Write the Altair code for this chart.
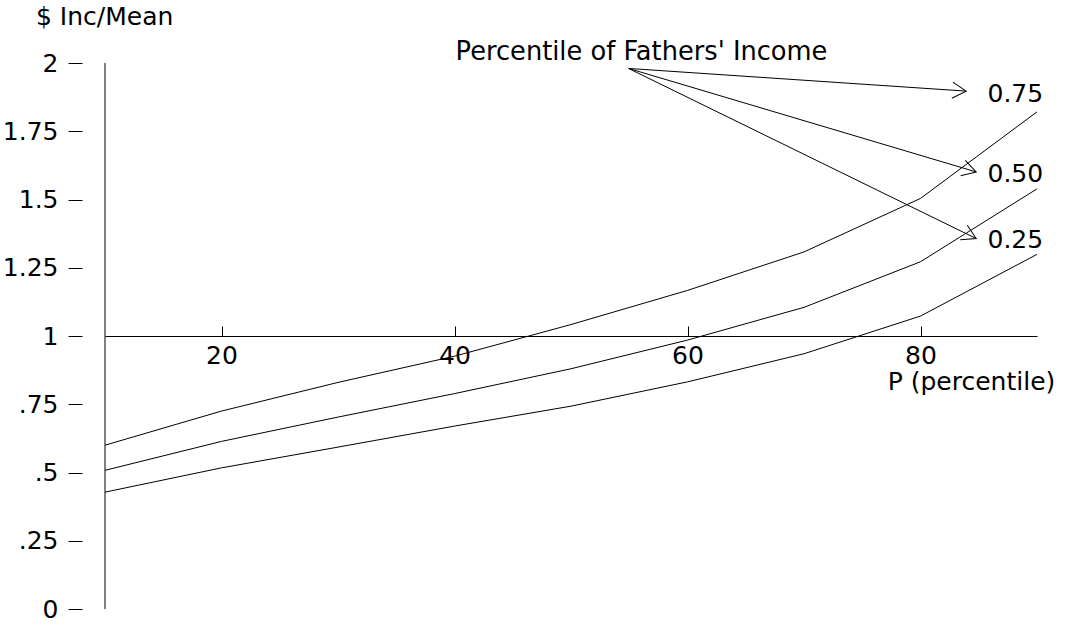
import math
import altair as alt
import pandas as pd

# ---- data ----
percentile = [10, 20, 30, 40, 50, 60, 70, 80, 90]
inc_p75 = [0.600, 0.725, 0.830, 0.926, 1.042, 1.167, 1.308, 1.504, 1.821]
inc_p50 = [0.508, 0.614, 0.703, 0.789, 0.880, 0.985, 1.105, 1.272, 1.539]
inc_p25 = [0.428, 0.517, 0.593, 0.670, 0.743, 0.832, 0.935, 1.073, 1.299]
series_names = ["0.75", "0.50", "0.25"]

x_tick_values = [20, 40, 60, 80]
y_tick_values = [0, 0.25, 0.5, 0.75, 1, 1.25, 1.5, 1.75, 2]
y_tick_labels = ["0", ".25", ".5", ".75", "1", "1.25", "1.5", "1.75", "2"]

x_title = "P (percentile)"
y_title = "$ Inc/Mean"
note_text = "Percentile of Fathers' Income"

# annotation anchors (data coordinates)
note_x, note_y = 56.05, 2.040
arrow_from_x, arrow_from_y = 54.94, 1.980
arrow_to_x = [83.92, 84.78, 84.78]
arrow_to_y = [1.897, 1.601, 1.357]
label_x = 85.75
label_y = [1.886, 1.594, 1.353]

# ---- layout ----
W, H = 932, 546
X_DOM = [10, 90]
Y_DOM = [0, 2]
PX_X = W / (X_DOM[1] - X_DOM[0])
PX_Y = H / (Y_DOM[1] - Y_DOM[0])
FONT = "DejaVu Sans"
FS = 25

rows = []
for name, vals in zip(series_names, [inc_p75, inc_p50, inc_p25]):
    for p, v in zip(percentile, vals):
        rows.append({"P": p, "v": v, "series": name})
df_lines = pd.DataFrame(rows)

x_scale = alt.Scale(domain=X_DOM, nice=False, zero=False)
y_scale = alt.Scale(domain=Y_DOM, nice=False, zero=False)

label_expr = ""
for v, l in zip(y_tick_values, y_tick_labels):
    label_expr += f"datum.value == {v} ? '{l}' : "
label_expr += "datum.label"

x_offset_px = -(1 - Y_DOM[0]) * PX_Y  # put x axis at y = 1

lines = alt.Chart(df_lines).mark_line(color="black", strokeWidth=1).encode(
    x=alt.X("P:Q", scale=x_scale, axis=alt.Axis(
        orient="bottom", offset=x_offset_px, values=x_tick_values,
        ticks=False, tickSize=0, domain=True, domainColor="black", domainWidth=1,
        grid=False, labelPadding=7, labelFont=FONT, labelFontSize=FS,
        labelColor="black", labelFlush=False,
        title=x_title, titleFont=FONT, titleFontSize=FS, titleFontWeight="normal",
        titleColor="black", titleX=866, titleY=45, titleAlign="center",
        titleBaseline="middle")),
    y=alt.Y("v:Q", scale=y_scale, axis=alt.Axis(
        orient="left", offset=23, values=y_tick_values, domain=False,
        ticks=True, tickSize=14, tickColor="black", tickWidth=1, grid=False,
        labelPadding=10, labelFont=FONT, labelFontSize=FS, labelColor="black",
        labelExpr=label_expr, labelFlush=False, labelOverlap=False,
        title=y_title, titleFont=FONT, titleFontSize=FS, titleFontWeight="normal",
        titleColor="black", titleAngle=0, titleX=-46.5, titleY=-46.5,
        titleAlign="left", titleBaseline="middle")),
    detail="series:N",
)

df_ticks = pd.DataFrame({"P": x_tick_values, "v": [1] * len(x_tick_values)})
tick_layer = alt.Chart(df_ticks).mark_point(opacity=0).encode(
    x=alt.X("P:Q", scale=x_scale, axis=alt.Axis(
        orient="top", offset=x_offset_px, values=x_tick_values, labels=False,
        domain=False, tickSize=10, tickColor="black", tickWidth=1, grid=False,
        title=None)),
    y=alt.Y("v:Q", scale=y_scale, axis=None),
)

df_vaxis = pd.DataFrame({"P": [X_DOM[0]], "v": [Y_DOM[0]], "v2": [Y_DOM[1]]})
v_axis = alt.Chart(df_vaxis).mark_rule(color="black", strokeWidth=1).encode(
    x=alt.X("P:Q", scale=x_scale, axis=None),
    y=alt.Y("v:Q", scale=y_scale, axis=None),
    y2="v2:Q",
)

df_note = pd.DataFrame({"P": [note_x], "v": [note_y], "t": [note_text]})
note = alt.Chart(df_note).mark_text(
    font=FONT, fontSize=25.7, color="black", align="center", baseline="middle"
).encode(
    x=alt.X("P:Q", scale=x_scale, axis=None),
    y=alt.Y("v:Q", scale=y_scale, axis=None),
    text="t:N",
)

angles = []
for tx, ty in zip(arrow_to_x, arrow_to_y):
    dx = (tx - arrow_from_x) * PX_X
    dy = -(ty - arrow_from_y) * PX_Y
    angles.append(math.degrees(math.atan2(dy, dx)) % 360)

df_arrows = pd.DataFrame({
    "P": [arrow_from_x] * len(arrow_to_x), "v": [arrow_from_y] * len(arrow_to_x),
    "P2": arrow_to_x, "v2": arrow_to_y, "ang": angles,
})
shafts = alt.Chart(df_arrows).mark_rule(color="black", strokeWidth=1).encode(
    x=alt.X("P:Q", scale=x_scale, axis=None),
    y=alt.Y("v:Q", scale=y_scale, axis=None),
    x2="P2:Q", y2="v2:Q",
)
heads = alt.Chart(df_arrows).mark_point(
    shape="M -1 -0.58 L 0 0 L -1 0.58", size=764, filled=False,
    color="black", strokeWidth=1, opacity=1,
).encode(
    x=alt.X("P2:Q", scale=x_scale, axis=None),
    y=alt.Y("v2:Q", scale=y_scale, axis=None),
    angle=alt.Angle("ang:Q", scale=None),
)

df_labels = pd.DataFrame({"P": [label_x] * 3, "v": label_y, "t": series_names})
labels = alt.Chart(df_labels).mark_text(
    font=FONT, fontSize=FS, color="black", align="left", baseline="middle"
).encode(
    x=alt.X("P:Q", scale=x_scale, axis=None),
    y=alt.Y("v:Q", scale=y_scale, axis=None),
    text="t:N",
)

chart = alt.layer(
    lines, tick_layer, v_axis, note, shafts, heads, labels
).resolve_axis(x="independent", y="independent").properties(
    width=W, height=H,
    autosize=alt.AutoSizeParams(type="none"),
    padding={"left": 105, "top": 63, "right": 29, "bottom": 17},
    background="white",
).configure_view(stroke=None)

chart.save("out.html", embed_options={"renderer": "svg", "actions": False})
